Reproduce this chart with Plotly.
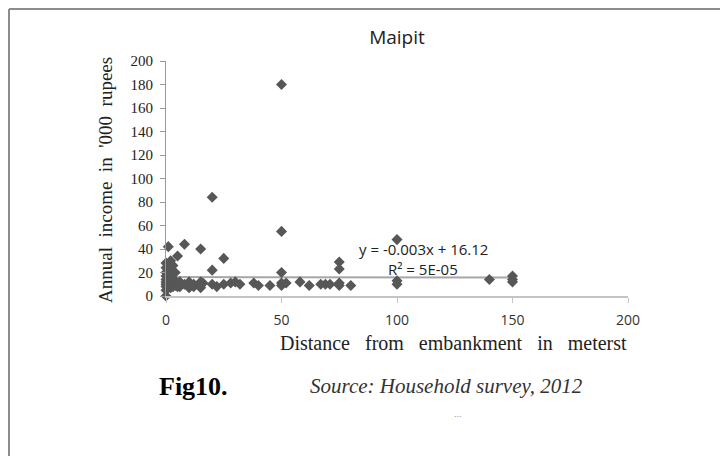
import plotly.graph_objects as go

# Household survey points (distance in metres, income in '000 rupees)
distance = [0, 0, 0, 0, 0, 0, 0, 0, 0, 0,
            1, 1, 1, 1, 1,
            2, 2, 2, 2,
            3, 3, 3, 3,
            4, 4, 4,
            5, 5, 5,
            6, 6,
            8, 8,
            10, 10, 10,
            12, 12,
            15, 15, 15, 15,
            16,
            20, 20, 20,
            22,
            25, 25,
            28, 30, 32, 38, 40, 45,
            50, 50, 50, 50, 50,
            52, 58, 62, 67, 69, 71,
            75, 75, 75, 75,
            80,
            100, 100, 100,
            140,
            150, 150, 150]
income = [0, 5, 8, 10, 12, 14, 17, 20, 24, 28,
          42, 9, 12, 18, 25,
          30, 22, 10, 7,
          26, 15, 11, 8,
          20, 12, 9,
          34, 10, 8,
          12, 8,
          44, 10,
          12, 9, 7,
          10, 8,
          40, 12, 9, 7,
          11,
          84, 22, 10,
          8,
          32, 10,
          11, 12, 10, 11, 9, 9,
          180, 55, 20, 11, 9,
          11, 12, 9, 10, 10, 10,
          29, 23, 11, 9,
          9,
          48, 13, 10,
          14,
          17, 14, 12]

# Linear trend reported on the chart
slope = -0.003
intercept = 16.12
trend_x = [0, 150]
trend_label = "y = -0.003x + 16.12"
r2_label = "R² = 5E-05"

x_ticks = [0, 50, 100, 150, 200]
y_ticks = [0, 20, 40, 60, 80, 100, 120, 140, 160, 180, 200]

# plot area in page pixels (the page body adds an 8px offset)
L, R, T, B = 166, 628, 61, 296
W, H = R - L, B - T


def px(x):
    return (x - L) / W


def py(y):
    return (B - y) / H


fig = go.Figure()

fig.add_trace(go.Scatter(
    x=trend_x,
    y=[slope * v + intercept for v in trend_x],
    mode='lines',
    line=dict(color='#a6a6a6', width=2),
    showlegend=False,
    hoverinfo='skip'
))

fig.add_trace(go.Scatter(
    x=distance,
    y=income,
    mode='markers',
    marker=dict(symbol='diamond', size=8.5, color='#575757'),
    cliponaxis=False,
    showlegend=False
))

serif = "Liberation Serif, Times New Roman, serif"
sans = "Open Sans, Liberation Sans, sans-serif"

fig.update_layout(
    width=720,
    height=448,
    margin=dict(l=L - 8, r=720 - (R - 8), t=T - 8, b=448 - (B - 8)),
    paper_bgcolor='white',
    plot_bgcolor='white',
    title=dict(text="Maipit", x=(397 - 8) / 720, xanchor='center', y=1 - (37 - 8) / 448,
               yanchor='middle', font=dict(family=sans, size=19, color='#222')),
    xaxis=dict(
        range=[0, 200], tickvals=x_ticks, showgrid=False, zeroline=False,
        showline=True, linecolor='#c4c4c4', linewidth=2,
        ticks='outside', ticklen=5, tickcolor='#c4c4c4', tickwidth=1,
        ticklabelstandoff=5,
        tickfont=dict(family=sans, size=14, color='#333')
    ),
    yaxis=dict(
        range=[0, 200], tickvals=y_ticks, showgrid=False, zeroline=False,
        showline=True, linecolor='#999', linewidth=1,
        ticks='outside', ticklen=5, tickcolor='#999',
        ticklabelstandoff=4,
        tickfont=dict(family=serif, size=15, color='#222')
    ),
    shapes=[
        dict(type='line', xref='paper', yref='paper',
             x0=px(9), x1=px(740), y0=py(9), y1=py(9),
             line=dict(color='#8c8c8c', width=2)),
        dict(type='line', xref='paper', yref='paper',
             x0=px(9), x1=px(9), y0=py(9), y1=py(470),
             line=dict(color='#8c8c8c', width=2)),
    ],
    annotations=[
        dict(text=trend_label, x=px(423), y=py(249), xref='paper', yref='paper',
             xanchor='center', yanchor='middle', showarrow=False,
             font=dict(family=sans, size=15, color='#222')),
        dict(text=r2_label, x=px(423), y=py(269), xref='paper', yref='paper',
             xanchor='center', yanchor='middle', showarrow=False,
             font=dict(family=sans, size=15, color='#222')),
        dict(text="Annual  income  in  '000  rupees", textangle=-90,
             x=px(105), y=py(180), xref='paper', yref='paper',
             xanchor='center', yanchor='middle', showarrow=False,
             font=dict(family=serif, size=19, color='#222')),
        dict(text="Distance   from   embankment   in   meterst",
             x=px(629), y=py(343), xref='paper', yref='paper',
             xanchor='right', yanchor='middle', showarrow=False,
             font=dict(family=serif, size=20, color='#222')),
        dict(text="<b>Fig10.</b>", x=px(157), y=py(386), xref='paper', yref='paper',
             xanchor='left', yanchor='middle', showarrow=False,
             font=dict(family=serif, size=26, color='black')),
        dict(text="<i>Source: Household survey, 2012</i>", x=px(308), y=py(386),
             xref='paper', yref='paper', xanchor='left', yanchor='middle', showarrow=False,
             font=dict(family=serif, size=21, color='#333')),
        dict(text="...", x=px(458), y=py(413), xref='paper', yref='paper',
             xanchor='center', yanchor='middle', showarrow=False,
             font=dict(family=serif, size=10, color='#999')),
    ]
)

fig.write_html("out.html")
